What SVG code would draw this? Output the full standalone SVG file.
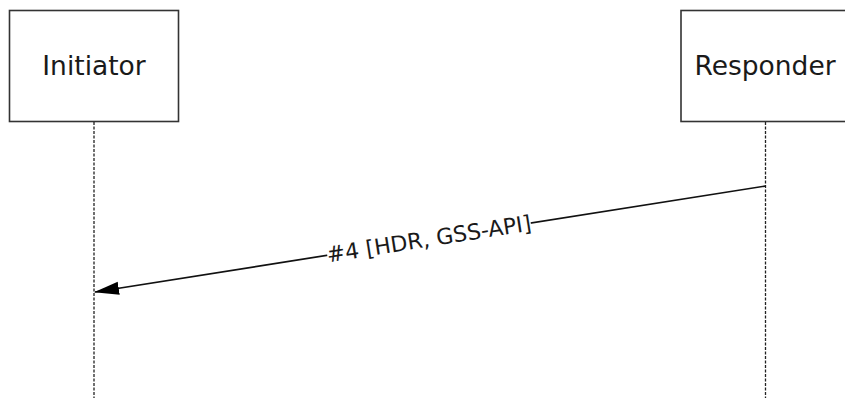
<svg xmlns="http://www.w3.org/2000/svg" width="845" height="402" viewBox="0 0 845 402">
<defs>
<style>
.box{fill:#fff;stroke:#333;stroke-width:1.6}
.life{stroke:#222;stroke-width:1.3;stroke-dasharray:3,1.5;fill:none}
.lbl{font-family:"DejaVu Sans",Verdana,sans-serif;font-size:26.5px;fill:#1a1a1a;text-anchor:middle}
.msg{font-family:"DejaVu Sans",Verdana,sans-serif;font-size:22px;fill:#1a1a1a;text-anchor:middle}
.arrow{stroke:#111;stroke-width:1.7;fill:none}
</style>
<marker id="ah" markerWidth="25" markerHeight="16" refX="24" refY="8" orient="auto" markerUnits="userSpaceOnUse">
<path d="M0,1.5 L25,8 L0,14.5 Z" fill="#000"/>
</marker>
</defs>
<rect width="845" height="402" fill="#fff"/>
<g id="initiator">
<rect class="box" x="9.5" y="10.5" width="169" height="111"/>
<text class="lbl" x="94" y="75">Initiator</text>
</g>
<g id="responder">
<rect class="box" x="681" y="10.5" width="169" height="111"/>
<text class="lbl" x="765" y="75">Responder</text>
</g>
<g id="connectors">
<line class="life" x1="94" y1="122" x2="94" y2="398"/>
<line class="life" x1="765.5" y1="122" x2="765.5" y2="398"/>
<line class="arrow" x1="765.5" y1="186" x2="95" y2="292" marker-end="url(#ah)"/>
<g transform="rotate(-8.98 429 239.2)">
<rect x="326" y="229" width="206" height="20" fill="#fff"/>
<text class="msg" x="429" y="246.5">#4 [HDR, GSS-API]</text>
</g>
</g>
</svg>
